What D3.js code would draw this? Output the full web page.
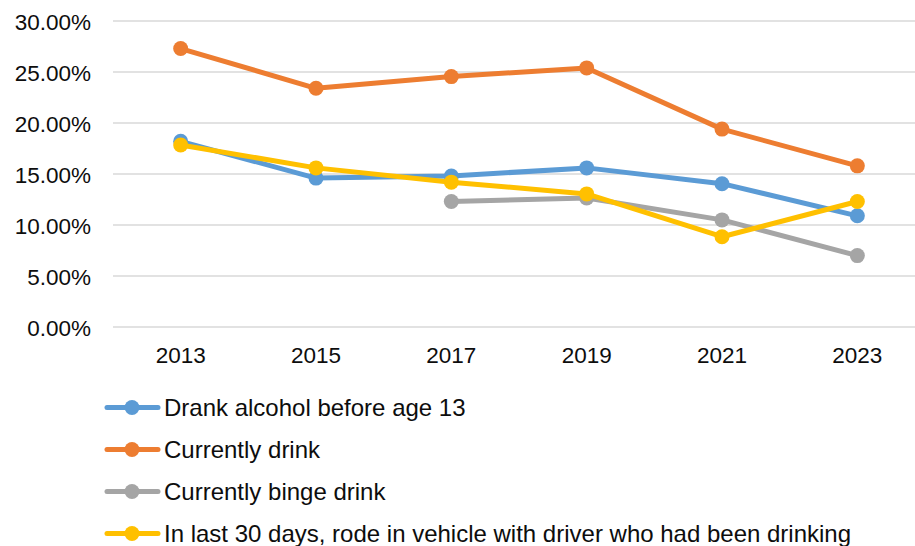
<!DOCTYPE html>
<html>
<head>
<meta charset="utf-8">
<script src="https://cdn.jsdelivr.net/npm/d3@7"></script>
<style>
  html, body { margin: 0; padding: 0; background: #fff; }
  svg { display: block; font-family: "Liberation Sans", Arial, sans-serif; }
</style>
</head>
<body>
<svg id="chart" width="915" height="546"></svg>
<script>
// Survey years on the category axis
const years = ["2013", "2015", "2017", "2019", "2021", "2023"];

// Percent of respondents, one array per indicator (null = not asked that year)
const drankBefore13 = [18.2, 14.6, 14.8, 15.6, 14.05, 10.9];
const currentlyDrink = [27.3, 23.4, 24.55, 25.4, 19.4, 15.8];
const currentlyBinge = [null, null, 12.3, 12.65, 10.5, 7.0];
const rodeWithDrinker = [17.85, 15.6, 14.2, 13.05, 8.85, 12.3];

const seriesNames = [
  "Drank alcohol before age 13",
  "Currently drink",
  "Currently binge drink",
  "In last 30 days, rode in vehicle with driver who had been drinking"
];
const seriesColors = ["#5B9BD5", "#ED7D31", "#A5A5A5", "#FFC000"];
const yTicks = [0, 5, 10, 15, 20, 25, 30];

const series = [drankBefore13, currentlyDrink, currentlyBinge, rodeWithDrinker]
  .map((values, i) => ({ name: seriesNames[i], color: seriesColors[i], values }));

const svg = d3.select("#chart");

const x = d3.scaleBand().domain(years).range([113, 925]);
const y = d3.scaleLinear().domain([0, 30]).range([327, 21]);

// Horizontal gridlines
svg.append("g")
  .selectAll("line")
  .data(yTicks)
  .join("line")
  .attr("x1", 113).attr("x2", 925)
  .attr("y1", d => y(d)).attr("y2", d => y(d))
  .attr("stroke", "#d9d9d9")
  .attr("stroke-width", 1.4);

// Y axis labels
const yAxis = d3.axisLeft(y).tickValues(yTicks)
  .tickFormat(d => d.toFixed(2) + "%").tickSize(0).tickPadding(0);
svg.append("g")
  .attr("transform", "translate(91,0)")
  .call(yAxis)
  .call(g => g.select(".domain").remove())
  .call(g => g.selectAll("text")
    .attr("font-size", 22.5)
    .attr("fill", "#0d0d0d")
    .attr("font-family", "Liberation Sans, Arial, sans-serif")
    .attr("dy", "0.36em"));

// X axis labels
const xAxis = d3.axisBottom(x).tickSize(0).tickPadding(0);
svg.append("g")
  .attr("transform", "translate(0,363)")
  .call(xAxis)
  .call(g => g.select(".domain").remove())
  .call(g => g.selectAll("text")
    .attr("font-size", 22.5)
    .attr("fill", "#0d0d0d")
    .attr("font-family", "Liberation Sans, Arial, sans-serif")
    .attr("dy", 0));

const cx = d => x(d) + x.bandwidth() / 2;

const line = d3.line()
  .defined(d => d.v != null)
  .x(d => cx(d.year))
  .y(d => y(d.v));

const groups = svg.append("g")
  .selectAll("g")
  .data(series)
  .join("g");

groups.append("path")
  .attr("d", s => line(s.values.map((v, i) => ({ year: years[i], v }))))
  .attr("fill", "none")
  .attr("stroke", s => s.color)
  .attr("stroke-width", 5)
  .attr("stroke-linejoin", "round")
  .attr("stroke-linecap", "round");

groups.selectAll("circle")
  .data(s => s.values.map((v, i) => ({ year: years[i], v, color: s.color }))
    .filter(d => d.v != null))
  .join("circle")
  .attr("cx", d => cx(d.year))
  .attr("cy", d => y(d.v))
  .attr("r", 7.5)
  .attr("fill", d => d.color);

// Legend
const legend = svg.append("g")
  .selectAll("g")
  .data(series)
  .join("g")
  .attr("transform", (d, i) => `translate(0,${407.5 + i * 42})`);

legend.append("line")
  .attr("x1", 107).attr("x2", 158)
  .attr("stroke", d => d.color)
  .attr("stroke-width", 5)
  .attr("stroke-linecap", "round");
legend.append("circle")
  .attr("cx", 132).attr("r", 7.5)
  .attr("fill", d => d.color);
legend.append("text")
  .attr("x", 164)
  .attr("dy", "0.36em")
  .attr("font-size", 24)
  .attr("fill", "#0d0d0d")
  .text(d => d.name);
</script>
</body>
</html>
